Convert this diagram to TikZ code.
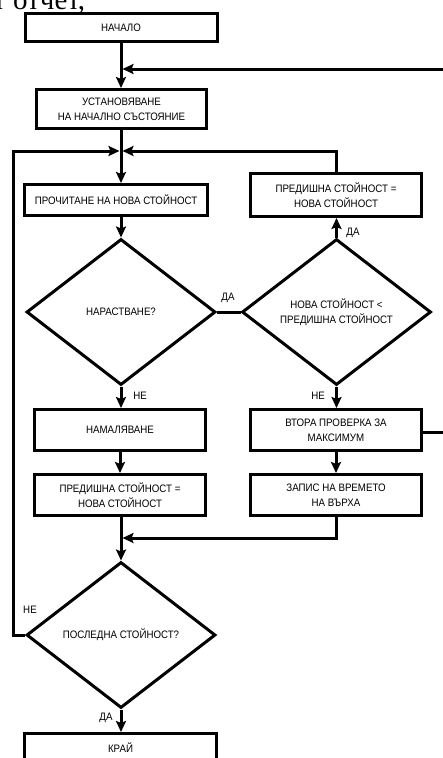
\documentclass[tikz,border=0pt]{standalone}
\usepackage{fontspec}
\setmainfont{Liberation Sans}[FakeStretch=0.9]
\newfontfamily\serifcut{Liberation Serif}
\usetikzlibrary{shapes.geometric,arrows.meta}
\tikzset{
  box/.style={draw, line width=3pt, inner sep=0pt, align=center},
  dia/.style={draw, diamond, line width=3pt, inner sep=0pt, align=center, minimum width=189pt, minimum height=146pt},
  flow/.style={line width=3pt, -{Stealth[length=11pt,width=10pt,inset=2pt]}},
  plain/.style={line width=3pt},
  lbl/.style={inner sep=0pt},
}
\begin{document}
\begin{tikzpicture}[x=1pt,y=-1pt, every node/.style={font=\fontsize{10.8}{15}\selectfont}]
\useasboundingbox (0,0) rectangle (443,758);
\node[font=\serifcut\fontsize{29}{30}\selectfont, anchor=base west, inner sep=0pt] (frag) at (-7,9) {т отчет,};

\node[box, minimum width=192pt, minimum height=28pt] (start) at (121,27.5) {НАЧАЛО};
\node[box, minimum width=170pt, minimum height=39pt] (init) at (121.5,109) {УСТАНОВЯВАНЕ\\НА НАЧАЛНО СЪСТОЯНИЕ};
\node[box, minimum width=183pt, minimum height=31pt] (read) at (116,200) {ПРОЧИТАНЕ НА НОВА СТОЙНОСТ};
\node[box, minimum width=171pt, minimum height=43pt] (prevR) at (336,195) {ПРЕДИШНА СТОЙНОСТ =\\НОВА СТОЙНОСТ};
\node[dia] (d1) at (121,312) {НАРАСТВАНЕ?};
\node[dia] (d2) at (336.5,312) {НОВА СТОЙНОСТ <\\ПРЕДИШНА СТОЙНОСТ};
\node[box, minimum width=171pt, minimum height=41pt] (dec) at (120,430) {НАМАЛЯВАНЕ};
\node[box, minimum width=171pt, minimum height=41pt] (chk2) at (336,430) {ВТОРА ПРОВЕРКА ЗА\\МАКСИМУМ};
\node[box, minimum width=171pt, minimum height=41pt] (prevL) at (120,495) {ПРЕДИШНА СТОЙНОСТ =\\НОВА СТОЙНОСТ};
\node[box, minimum width=171pt, minimum height=41pt] (rec) at (336,495) {ЗАПИС НА ВРЕМЕТО\\НА ВЪРХА};
\node[dia] (d3) at (121,635) {ПОСЛЕДНА СТОЙНОСТ?};
\node[box, minimum width=192pt, minimum height=28pt] (end) at (120.5,747.5) {КРАЙ};

\coordinate (j0) at (121,69);
\coordinate (j1) at (121,151);
\coordinate (j2) at (121,538);
\coordinate (rin) at (452,69);
\coordinate (rout) at (452,432);
\coordinate (lx) at (13.5,151);

\draw[flow] (start.south -| j0) -- (init.north -| j0);
\draw[flow, shorten >=1.5pt] (chk2.east |- rout) -- (rout) -- (rin) -- (j0);
\draw[flow] (init.south -| j1) -- (read.north -| j1);
\draw[flow, shorten >=1.5pt] (d3.west) -| (lx) -- (j1);
\draw[flow, shorten >=1.5pt] (prevR.north) |- (j1);
\draw[flow] (read.south -| j1) -- (d1.north);
\draw[plain] (d1.east) -- (d2.west);
\draw[flow] (d2.north) -- (prevR.south -| d2.north);
\draw[flow] (d1.south) -- (dec.north -| d1.south);
\draw[flow] (d2.south) -- (chk2.north -| d2.south);
\draw[flow] (dec.south) -- (prevL.north);
\draw[flow] (chk2.south) -- (rec.north);
\draw[flow] (prevL.south -| j2) -- (d3.north);
\draw[flow, shorten >=1.5pt] (rec.south) |- (j2);
\draw[flow] (d3.south) -- (end.north -| d3.south);

\node[lbl] (yes1) at (228,298) {ДА};
\node[lbl] (yes2) at (353,233) {ДА};
\node[lbl] (no1) at (140,396) {НЕ};
\node[lbl] (no2) at (318,396) {НЕ};
\node[lbl] (no3) at (30,610) {НЕ};
\node[lbl] (yes3) at (106,718) {ДА};
\end{tikzpicture}
\end{document}
